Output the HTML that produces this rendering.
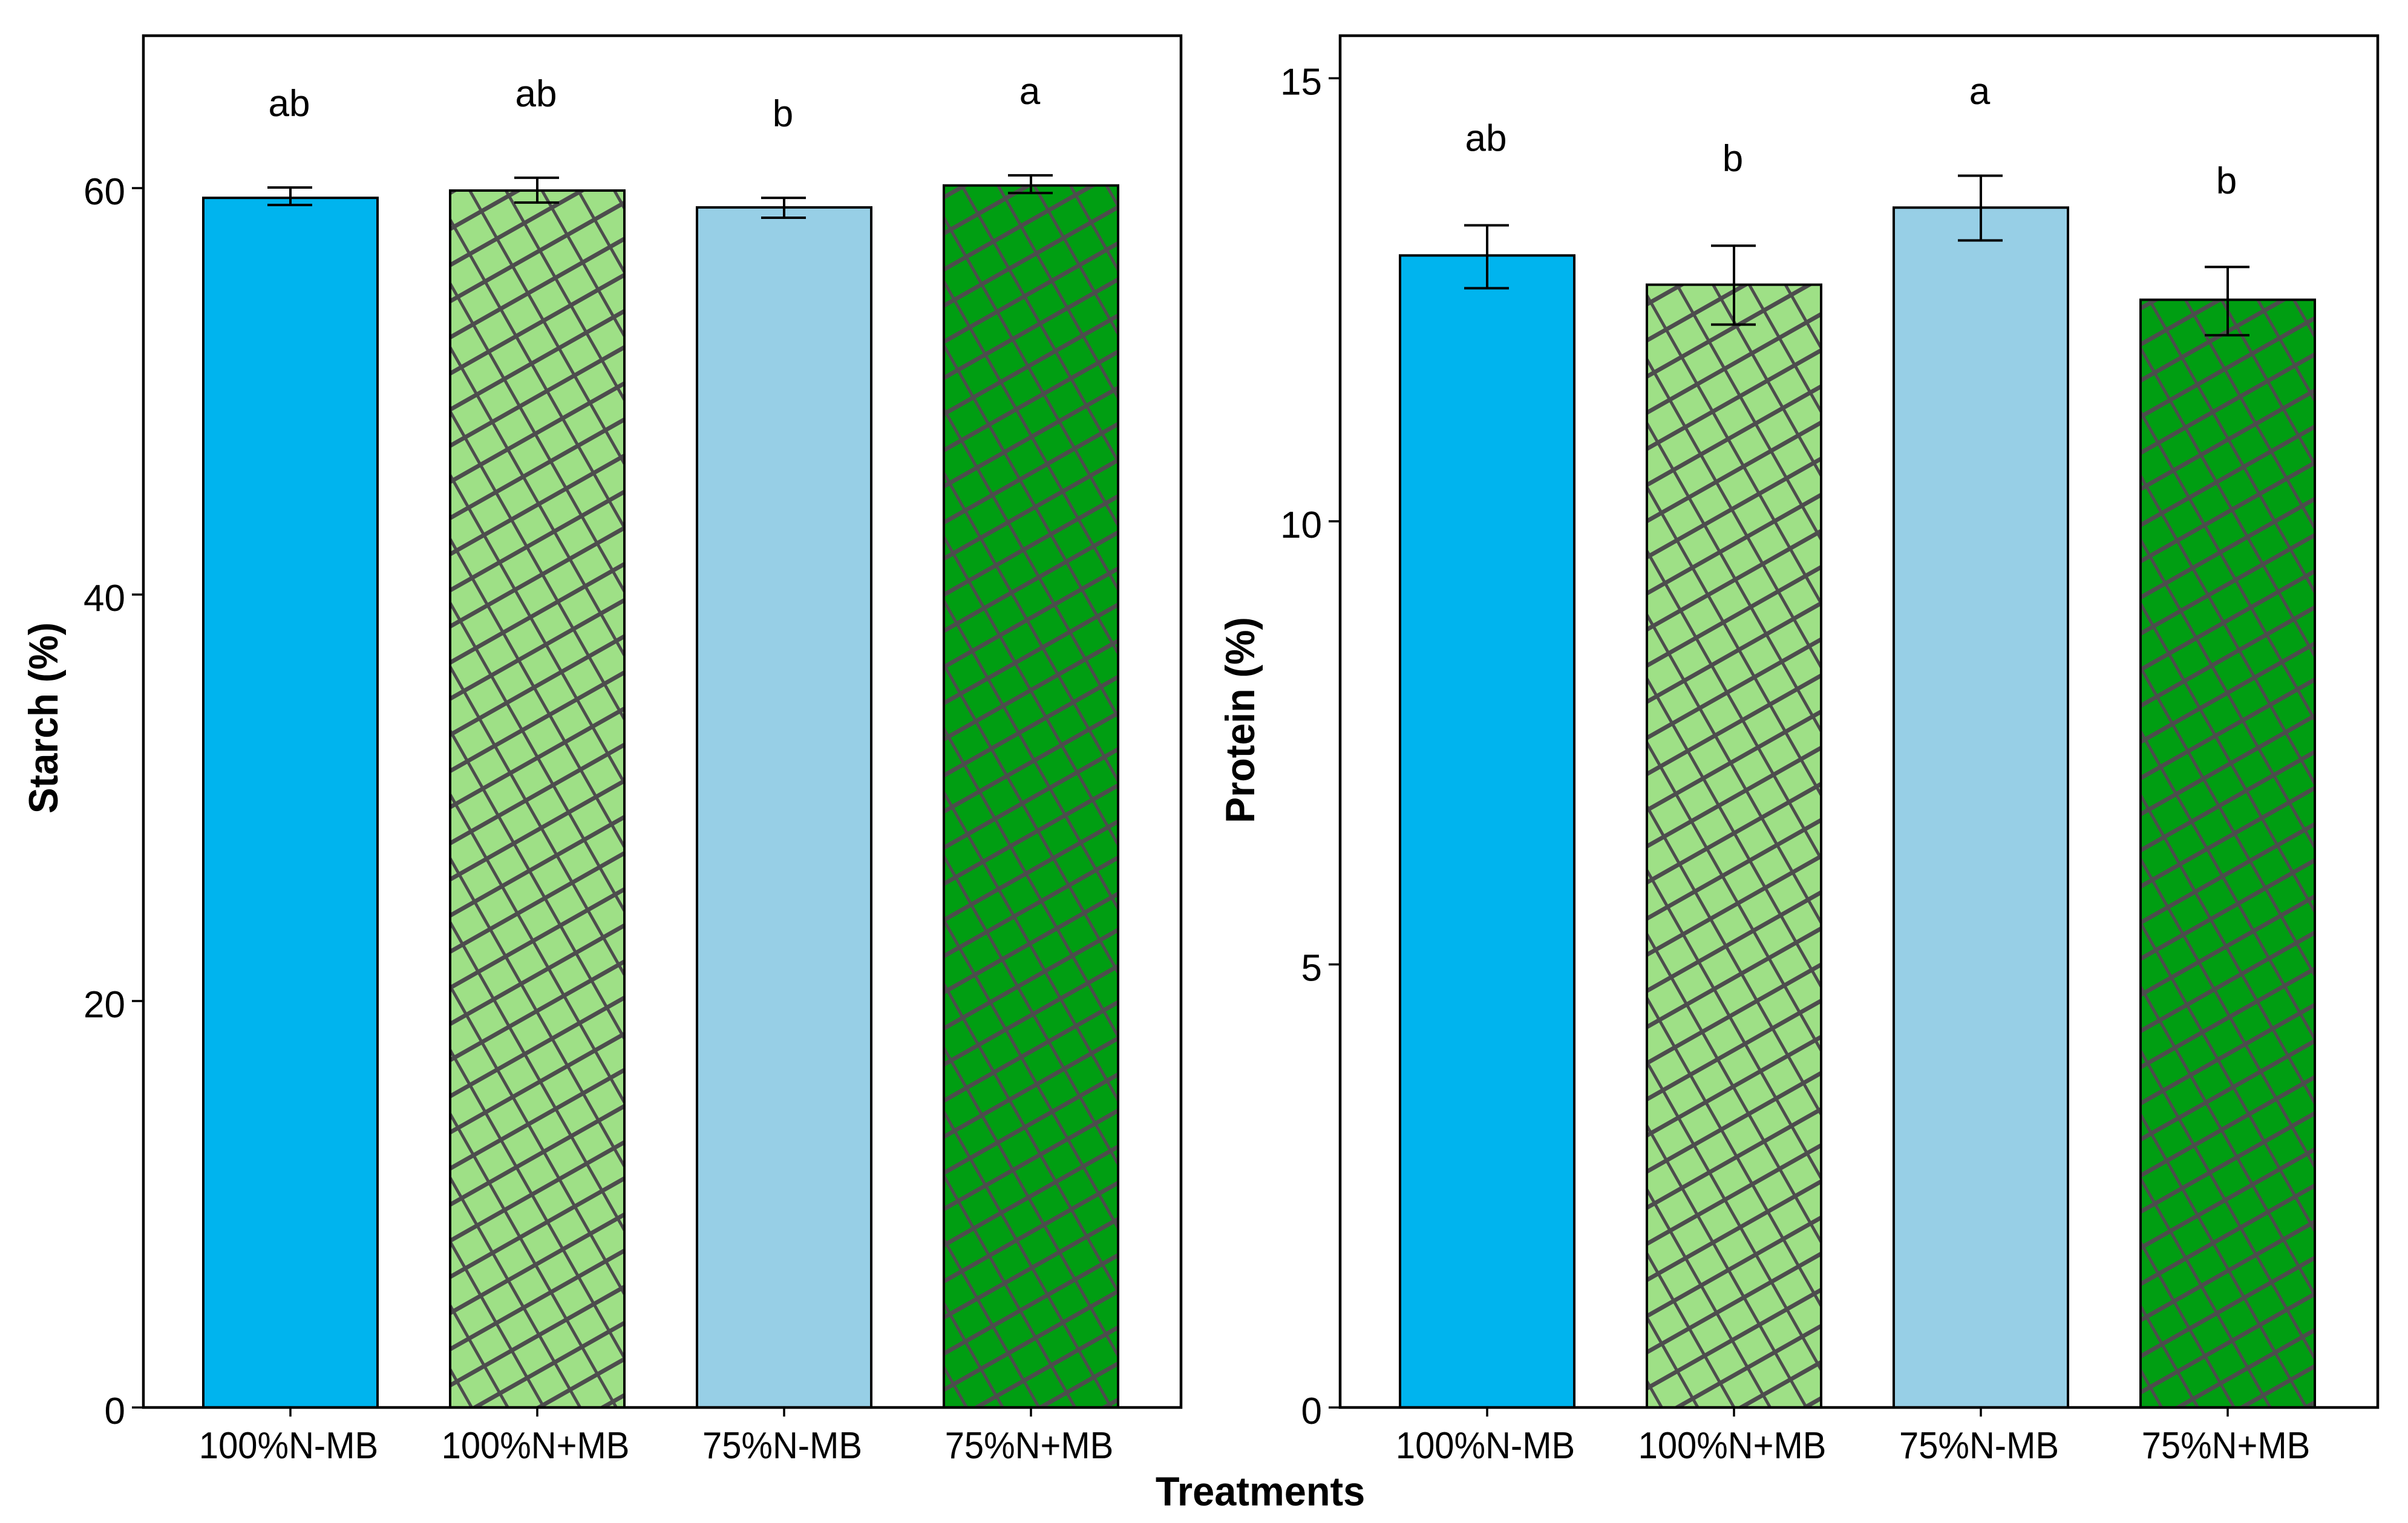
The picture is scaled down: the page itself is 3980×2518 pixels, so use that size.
<!DOCTYPE html>
<html lang="en">
<head>
<meta charset="utf-8">
<title>Starch and protein by treatment</title>
<style>
  html, body { margin: 0; padding: 0; background: #ffffff; }
  svg { display: block; }
  text { font-family: "Liberation Sans", sans-serif; fill: #000; }
</style>
</head>
<body>
<svg id="figure" xmlns="http://www.w3.org/2000/svg" width="3980" height="2518" viewBox="0 0 3980 2518">
  <defs>
    <pattern id="hatch-starch-2" patternUnits="userSpaceOnUse" width="52" height="52" patternTransform="translate(808,1115) rotate(-29.5)">
      <rect width="52" height="52" fill="#9ee086"/>
      <rect width="52" height="7" fill="#4d4d4d"/>
      <rect width="5" height="52" fill="#4d4d4d"/>
    </pattern>
    <pattern id="hatch-starch-4" patternUnits="userSpaceOnUse" width="52" height="52" patternTransform="translate(1593,423) rotate(-29.5)">
      <rect width="52" height="52" fill="#009e12"/>
      <rect width="52" height="7" fill="#4d4d4d"/>
      <rect width="5" height="52" fill="#4d4d4d"/>
    </pattern>
    <pattern id="hatch-protein-2" patternUnits="userSpaceOnUse" width="52" height="52" patternTransform="translate(2750,543) rotate(-29.5)">
      <rect width="52" height="52" fill="#9ee086"/>
      <rect width="52" height="7" fill="#4d4d4d"/>
      <rect width="5" height="52" fill="#4d4d4d"/>
    </pattern>
    <pattern id="hatch-protein-4" patternUnits="userSpaceOnUse" width="52" height="52" patternTransform="translate(3622,518) rotate(-29.5)">
      <rect width="52" height="52" fill="#009e12"/>
      <rect width="52" height="7" fill="#4d4d4d"/>
      <rect width="5" height="52" fill="#4d4d4d"/>
    </pattern>
  </defs>

  <g id="starch-panel"></g>
  <g id="protein-panel"></g>

  <text transform="translate(95,1187) rotate(-90) scale(0.94,1)" text-anchor="middle" font-size="68" font-weight="700">Starch (%)</text>
  <text transform="translate(2073,1190.5) rotate(-90) scale(0.95,1)" text-anchor="middle" font-size="68" font-weight="700">Protein (%)</text>
  <text transform="translate(2083,2489) scale(0.955,1)" text-anchor="middle" font-size="68" font-weight="700">Treatments</text>
</svg>

<script>
var categories = ['100%N-MB', '100%N+MB', '75%N-MB', '75%N+MB'];

var starchValues = [59.52, 59.88, 59.05, 60.13];
var starchUpper = [60.03, 60.51, 59.52, 60.63];
var starchLower = [59.17, 59.29, 58.54, 59.76];
var starchLetters = ['ab', 'ab', 'b', 'a'];
var starchLetterLevels = [63.54, 64.02, 63.04, 64.14];
var starchTicks = [0, 20, 40, 60];
var starchMax = 67.5;

var proteinValues = [13.0, 12.67, 13.54, 12.5];
var proteinUpper = [13.34, 13.11, 13.9, 12.87];
var proteinLower = [12.63, 12.22, 13.17, 12.1];
var proteinLetters = ['ab', 'b', 'a', 'b'];
var proteinLetterLevels = [14.18, 13.95, 14.71, 13.7];
var proteinTicks = [0, 5, 10, 15];
var proteinMax = 15.48;

var svgNS = 'http://www.w3.org/2000/svg';
var PANEL_TOP = 59;
var PANEL_BOTTOM = 2327;
var PANEL_WIDTH = 1715;
var BAND_START = 243;
var BAND_STEP = 408;
var BAR_HALF = 144;
var CAP_HALF = 37;

function make(parent, tag, attrs, content) {
  var node = document.createElementNS(svgNS, tag);
  for (var key in attrs) { node.setAttribute(key, attrs[key]); }
  if (content !== undefined) { node.textContent = content; }
  parent.appendChild(node);
  return node;
}

function yScale(value, maxValue) {
  return PANEL_BOTTOM - (value / maxValue) * (PANEL_BOTTOM - PANEL_TOP);
}

function xScale(index, panelLeft) {
  return panelLeft + BAND_START + BAND_STEP * index;
}

function drawPanel(groupId, key, panelLeft, values, upper, lower, letters, letterLevels, ticks, maxValue) {
  var group = document.getElementById(groupId);
  var fills = ['#00b4ee', 'url(#hatch-' + key + '-2)', '#97cfe6', 'url(#hatch-' + key + '-4)'];

  categories.forEach(function (label, i) {
    var cx = xScale(i, panelLeft);
    var top = yScale(values[i], maxValue);

    var bar = make(group, 'rect', {
      x: cx - BAR_HALF, y: top, width: BAR_HALF * 2, height: PANEL_BOTTOM - top,
      fill: fills[i], stroke: '#000', 'stroke-width': 4
    });
    
    

    var yUp = yScale(upper[i], maxValue);
    var yLow = yScale(lower[i], maxValue);

    var stem = make(group, 'line', { x1: cx, x2: cx, y1: yUp, y2: yLow, stroke: '#000', 'stroke-width': 4 });
    
    

    var capTop = make(group, 'line', { x1: cx - CAP_HALF - 1, x2: cx + CAP_HALF - 1, y1: yUp, y2: yUp, stroke: '#000', 'stroke-width': 4 });
    
    

    var capLow = make(group, 'line', { x1: cx - CAP_HALF - 1, x2: cx + CAP_HALF - 1, y1: yLow, y2: yLow, stroke: '#000', 'stroke-width': 4 });
    
    

    var letter = make(group, 'text', {
      x: cx - 2, y: yScale(letterLevels[i], maxValue), 'text-anchor': 'middle', 'font-size': 62
    }, letters[i]);
    
    

    var xTick = make(group, 'line', { x1: cx, x2: cx, y1: PANEL_BOTTOM, y2: PANEL_BOTTOM + 15, stroke: '#000', 'stroke-width': 3.5 });
    
    

    var xLabel = make(group, 'text', {
      transform: 'translate(' + (cx - 3) + ',2411) scale(0.935,1)', 'text-anchor': 'middle', 'font-size': 62
    }, label);
    
    
  });

  ticks.forEach(function (tick) {
    var y = yScale(tick, maxValue);

    var yTick = make(group, 'line', { x1: panelLeft - 19, x2: panelLeft, y1: y, y2: y, stroke: '#000', 'stroke-width': 3.5 });
    
    

    var yLabel = make(group, 'text', {
      x: panelLeft - 30, y: y + 27, 'text-anchor': 'end', 'font-size': 62
    }, String(tick));
    
    
  });

  var frame = make(group, 'rect', {
    x: panelLeft, y: PANEL_TOP, width: PANEL_WIDTH, height: PANEL_BOTTOM - PANEL_TOP,
    fill: 'none', stroke: '#000', 'stroke-width': 4.5
  });
  
  
}

drawPanel('starch-panel', 'starch', 237, starchValues, starchUpper, starchLower, starchLetters, starchLetterLevels, starchTicks, starchMax);
drawPanel('protein-panel', 'protein', 2215, proteinValues, proteinUpper, proteinLower, proteinLetters, proteinLetterLevels, proteinTicks, proteinMax);
</script>
</body>
</html>
